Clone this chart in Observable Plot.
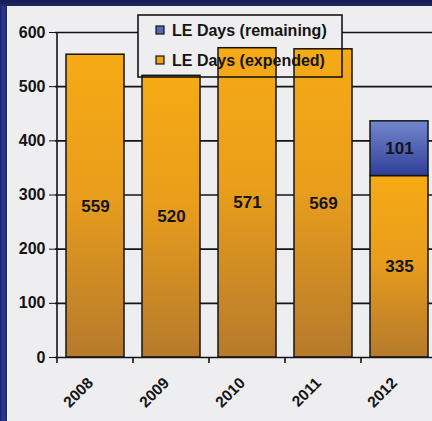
<!DOCTYPE html>
<html>
<head>
<meta charset="utf-8">
<script src="https://cdn.jsdelivr.net/npm/d3@7"></script>
<script src="https://cdn.jsdelivr.net/npm/@observablehq/plot@0.6"></script>
<style>
  html, body { margin: 0; padding: 0; overflow: hidden; background: #eeeef0; }
  #frame { position: relative; width: 432px; height: 421px; overflow: hidden; background: #eeeef0; }
  #bl { position: absolute; left: 0; top: 0; width: 7px; height: 421px;
        background: linear-gradient(90deg, #1a2160, #2a3a9c 45%, #1c2466); }
  #bl2 { position: absolute; left: 7px; top: 6px; width: 1px; height: 415px; background: #f8f8fa; }
  #bt { position: absolute; left: 0; top: 0; width: 432px; height: 6px;
        background: linear-gradient(180deg, #161c52, #1f2868); }
  #chart { position: absolute; left: 0; top: 0; }
</style>
</head>
<body>
<div id="frame">
  <div id="bl"></div>
  <div id="bl2"></div>
  <div id="bt"></div>
  <div id="chart"></div>
</div>
<script>
// ---- data ----
const years = ["2008", "2009", "2010", "2011", "2012"];
const expended = [559, 520, 571, 569, 335];
const remaining = [0, 0, 0, 0, 101];
const seriesNames = ["LE Days (remaining)", "LE Days (expended)"];
const yTicks = [0, 100, 200, 300, 400, 500, 600];

const expRows = years.map((year, i) => ({year, series: seriesNames[1], y1: 0, y2: expended[i], value: expended[i]}));
const remRows = years.map((year, i) => ({year, series: seriesNames[0], y1: expended[i], y2: expended[i] + remaining[i], value: remaining[i]}))
  .filter(d => d.value > 0);

const FONT = "'Liberation Sans', Arial, Helvetica, sans-serif";
const INK = "#141414";
const BG = "#eeeef0";

function svgEl(tag, attrs) {
  const e = document.createElementNS("http://www.w3.org/2000/svg", tag);
  for (const k in attrs) e.setAttribute(k, attrs[k]);
  return e;
}

// gradient definitions
function defsMark() {
  const defs = svgEl("defs", {});
  const go = svgEl("linearGradient", {id: "gradO", x1: 0, y1: 0, x2: 0, y2: 1});
  [["0%", "#f6aa14"], ["45%", "#e99e1c"], ["100%", "#b67a2c"]].forEach(([o, c]) =>
    go.appendChild(svgEl("stop", {offset: o, "stop-color": c})));
  const gb = svgEl("linearGradient", {id: "gradB", x1: 0, y1: 0, x2: 0, y2: 1});
  [["0%", "#7486cc"], ["100%", "#2f3f9a"]].forEach(([o, c]) =>
    gb.appendChild(svgEl("stop", {offset: o, "stop-color": c})));
  defs.appendChild(go); defs.appendChild(gb);
  return defs;
}

// legend layout
const LG = {x: 138, y: 15, w: 204, h: 62, sq: 8, sqX: 156, rowY: [30, 60], textX: 172};

function legendBg() {
  const g = svgEl("g", {});
  g.appendChild(svgEl("rect", {x: LG.x, y: LG.y, width: LG.w, height: LG.h, fill: BG}));
  return g;
}
function legendFg() {
  const g = svgEl("g", {});
  g.appendChild(svgEl("rect", {x: LG.x, y: LG.y, width: LG.w, height: LG.h, fill: "none", stroke: INK, "stroke-width": 1.6}));
  const fills = ["#5468b8", "#eea21a"];
  seriesNames.forEach((name, i) => {
    g.appendChild(svgEl("rect", {x: LG.sqX, y: LG.rowY[i] - LG.sq / 2, width: LG.sq, height: LG.sq, fill: fills[i], stroke: INK, "stroke-width": 1.2}));
    const t = svgEl("text", {x: LG.textX, y: LG.rowY[i], "text-anchor": "start", "dominant-baseline": "central", "font-size": 16, "font-weight": "bold", "font-family": FONT, fill: INK});
    t.textContent = name;
    g.appendChild(t);
  });
  return g;
}

// left axis line + category boundary ticks
function axisLines(index, scales) {
  const {x, y} = scales;
  const g = svgEl("g", {stroke: INK, "stroke-width": 1.6});
  const step = x.step ? x.step() : 0;
  const bw = x.bandwidth ? x.bandwidth() : 0;
  const y0 = y(0), yTop = y(yTicks[yTicks.length - 1]);
  const left = x(years[0]) - (step - bw) / 2;
  g.appendChild(svgEl("line", {x1: left, x2: left, y1: yTop, y2: y0 + 6}));
  years.forEach((yr, i) => {
    if (i === 0) return;
    const bx = x(yr) - (step - bw) / 2;
    g.appendChild(svgEl("line", {x1: bx, x2: bx, y1: y0, y2: y0 + 6}));
  });
  return g;
}

const chart = Plot.plot({
  width: 432,
  height: 421,
  marginLeft: 55,
  marginTop: 32,
  marginBottom: 64,
  marginRight: -6.5,
  style: {background: "transparent", overflow: "visible", fontSize: "16px", fontWeight: "bold", fontFamily: FONT, color: INK},
  x: {domain: years, paddingInner: 0.24, paddingOuter: 0.12, axis: null},
  y: {domain: [0, 600], ticks: yTicks, tickSize: 6, tickPadding: 4, label: null, tickFormat: d => String(d)},
  marks: [
    defsMark,
    Plot.ruleY(yTicks.filter(v => v > 0), {stroke: INK, strokeWidth: 1.6, strokeOpacity: 1}),
    legendBg,
    Plot.rectY(expRows, {x: "year", y1: "y1", y2: "y2", fill: "url(#gradO)", stroke: INK, strokeWidth: 1.5}),
    Plot.rectY(remRows, {x: "year", y1: "y1", y2: "y2", fill: "url(#gradB)", stroke: INK, strokeWidth: 1.5}),
    Plot.ruleY([0], {stroke: INK, strokeWidth: 1.6}),
    axisLines,
    legendFg,
    Plot.text(expRows, {x: "year", y: d => (d.y1 + d.y2) / 2, text: d => String(d.value), fontSize: 17, fontWeight: "bold", fill: INK}),
    Plot.text(remRows, {x: "year", y: d => (d.y1 + d.y2) / 2, text: d => String(d.value), fontSize: 17, fontWeight: "bold", fill: INK}),
    Plot.text(years, {x: d => d, y: 0, text: d => d, rotate: -45, textAnchor: "end", dx: -5, dy: 23, fontSize: 15.5, fontWeight: "bold", fill: INK})
  ]
});
document.getElementById("chart").appendChild(chart);
</script>
</body>
</html>
